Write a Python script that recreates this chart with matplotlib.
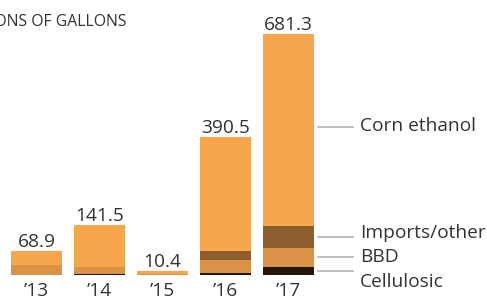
import numpy as np
import matplotlib.pyplot as plt

years = ["\u201913", "\u201914", "\u201915", "\u201916", "\u201917"]
totals = [68.9, 141.5, 10.4, 390.5, 681.3]
cellulosic = [0.0, 1.5, 1.0, 6.0, 23.0]
bbd = [27.0, 20.0, 1.5, 36.0, 54.0]
imports_other = [1.5, 0.0, 0.0, 26.0, 61.0]
corn = [t - c - b - i for t, c, b, i in zip(totals, cellulosic, bbd, imports_other)]

colors = {"Cellulosic": "#23150a", "BBD": "#da9246", "Imports/other": "#8c5e2e", "Corn ethanol": "#f8a64c"}

plt.rcParams['font.family'] = ['Open Sans', 'DejaVu Sans']
txt = "#333333"
fs = 13.8

fig = plt.figure(figsize=(4.87, 3.0), dpi=100)
ax = fig.add_axes([0, 25 / 300, 1, 275 / 300])
ax.set_xlim(-0.579, 7.15)
ax.set_ylim(0, 777.5)

x = np.arange(len(years))
w = 0.81
bottom = np.zeros(len(years))
segs = [("Cellulosic", cellulosic), ("BBD", bbd), ("Imports/other", imports_other), ("Corn ethanol", corn)]
for name, vals in segs:
    ax.bar(x, vals, w, bottom=bottom, color=colors[name], linewidth=0)
    bottom = bottom + np.array(vals)

for xi, t in zip(x, totals):
    ax.annotate(f"{t}", (xi, t), xytext=(0, 0), textcoords="offset points",
                ha="center", va="bottom", fontsize=fs, color=txt)

ax.set_xticks(x)
ax.set_xticklabels(years, fontsize=fs, color=txt)
ax.tick_params(axis="x", length=0, pad=5)
ax.set_yticks([])
for s in ax.spines.values():
    s.set_visible(False)

# labels on the right for the last bar
last = len(years) - 1
b = 0
text_shift = {"Cellulosic": -30, "BBD": 0, "Imports/other": 10, "Corn ethanol": 3}
for name, vals in segs:
    mid = b + vals[last] / 2
    b += vals[last]
    if name == "Corn ethanol":
        mid += 9
    ax.plot([last + 0.47, last + 1.02], [mid, mid], color="#bbbbbb", lw=1.3, clip_on=False)
    ax.text(last + 1.13, mid + text_shift[name], name, fontsize=fs, color=txt, va="center", ha="left")

fig.text(127 / 487, 1 - 22 / 300, "MILLIONS OF GALLONS", fontsize=11.3, color=txt, ha="right", va="center")

fig.savefig("out.png", dpi=100)
